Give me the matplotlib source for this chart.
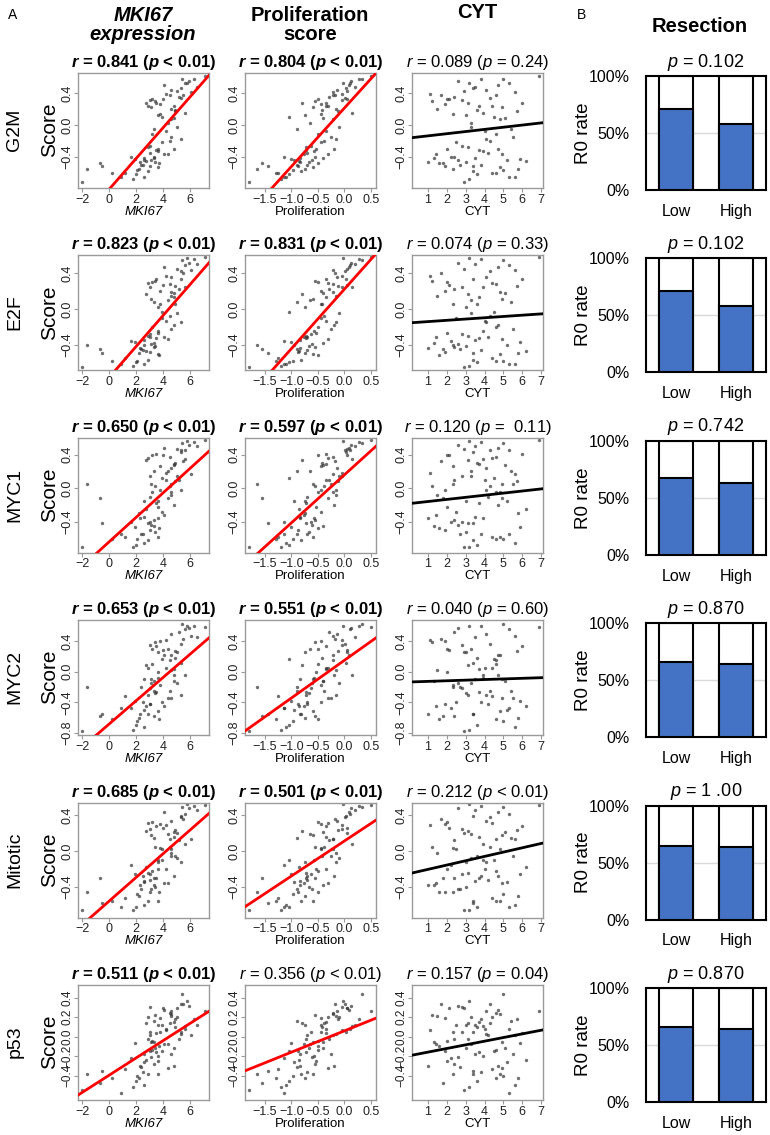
import numpy as np
import matplotlib
matplotlib.use('Agg')
import matplotlib.pyplot as plt

plt.rcParams['font.family'] = 'Liberation Sans'
plt.rcParams['mathtext.fontset'] = 'custom'
plt.rcParams['mathtext.rm'] = 'Liberation Sans'
plt.rcParams['mathtext.it'] = 'Liberation Sans:italic'
plt.rcParams['mathtext.bf'] = 'Liberation Sans:bold'
BFIT = r'\mathbf'
if 'mathtext.bfit' in plt.rcParams:
    plt.rcParams['mathtext.bfit'] = 'Liberation Sans:bold:italic'
    BFIT = r'\mathbfit'

# per-patient values (same patients in every panel)
mki67 = [5.3, 3.4, 4.8, 5.9, 2.9, 3.6, 6.1, 4.0, 6.3, 3.1,
         5.5, 4.9, 4.1, 5.2, 3.3, 5.8, 3.5, 4.6, 4.6, 5.6,
         3.0, 5.6, 4.4, 4.5, 3.8, 7.1, 2.7, 5.3, 3.8, 4.9,
         6.5, 4.6, 3.2, 5.4, 4.8, 4.2, 3.9, 5.0,
         3.0, 2.4, 4.6, 2.9, 3.3, 4.2, 2.2, 1.6, 3.4, 4.8,
         2.0, 3.9, 2.6, 3.7, 3.6, 1.2, 3.0, 2.7, 5.0, 3.0,
         4.4, 2.9, 2.6, 3.3, 3.2, 2.5, 4.1, 2.1, 3.1, 5.3,
         2.6, 3.6, 3.6, 1.9, 1.8, 4.5, 2.3, 3.5,
         -0.5, -2.0, 0.2, -0.7, 0.9, -1.6]
prolif = [0.03, -0.55, -0.41, 0.12, -0.30, -0.75, -0.22, 0.05, 0.28, -0.60,
          -0.18, -0.42, 0.08, -0.29, -0.90, -0.03, -0.35, -0.15, -0.14, 0.15,
          -0.05, 0.10, -0.65, -0.21, -0.45, 0.50, -0.80, 0.02, -0.44, -0.12,
          0.20, -0.22, -0.50, 0.33, -0.35, -0.04, -1.05, 0.05,
          -0.70, -0.90, -0.25, -0.82, -0.40, -0.35, -0.74, -1.15, -0.66, -0.20,
          -1.05, -0.45, -0.95, -0.50, -0.58, -1.25, -0.64, -0.86, -0.10, -0.88,
          -0.30, -0.72, -1.10, -0.55, -0.50, -0.70, -0.76, -0.98, -0.62, -0.15,
          -0.84, -0.60, -0.54, -1.00, -1.20, -0.38, -0.83, -0.72,
          -1.45, -1.80, -1.30, -1.55, -1.15, -1.65]
cyt = [3.4, 1.2, 5.1, 2.6, 4.4, 3.0, 5.6, 2.1, 3.8, 4.9,
       1.7, 3.6, 4.7, 2.4, 5.4, 3.2, 6.0, 1.5, 4.1, 3.9,
       2.8, 5.3, 3.3, 4.6, 1.9, 6.9, 3.1, 4.3, 2.3, 5.7,
       3.5, 4.8, 2.0, 5.0, 3.7, 1.1, 4.5, 2.9,
       4.2, 2.7, 5.5, 3.4, 1.3, 4.0, 5.8, 2.2, 3.0, 4.7,
       3.6, 2.5, 5.2, 1.6, 3.9, 4.4, 2.8, 6.2, 3.3, 1.9,
       4.9, 3.1, 5.6, 2.4, 4.6, 3.8, 1.4, 5.0, 2.6, 4.1,
       3.5, 4.8, 2.0, 5.9, 3.2, 4.3, 1.0, 3.7,
       3.4, 2.9, 4.6, 1.8, 5.3, 2.3]
g2m = [0.46, 0.30, 0.09, 0.55, 0.24, 0.12, 0.41, 0.33, 0.58, 0.22,
       0.37, 0.19, 0.50, 0.35, -0.05, 0.53, 0.27, 0.20, 0.44, 0.15,
       0.31, 0.52, 0.02, 0.38, 0.26, 0.61, 0.28, 0.34, 0.14, 0.18,
       0.47, 0.07, 0.33, 0.57, 0.24, 0.39, 0.10, 0.43,
       -0.35, -0.50, -0.15, -0.58, -0.42, -0.08, -0.55, -0.40, -0.46, -0.30,
       -0.62, -0.22, -0.44, -0.48, -0.33, -0.60, -0.26, -0.45, -0.02, -0.52,
       -0.37, -0.28, -0.65, -0.40, -0.12, -0.50, -0.36, -0.57, -0.44, -0.18,
       -0.41, -0.53, -0.30, -0.43, -0.68, -0.20, -0.47, -0.31,
       -0.52, -0.72, -0.60, -0.48, -0.65, -0.55]
e2f = [0.34, 0.31, 0.18, 0.52, 0.29, 0.02, 0.44, 0.27, 0.56, 0.11,
       0.40, 0.06, 0.47, 0.22, 0.08, 0.57, 0.33, 0.15, 0.36, 0.25,
       0.24, 0.49, 0.10, 0.28, 0.20, 0.58, 0.17, 0.42, 0.05, 0.26,
       0.50, 0.19, 0.30, 0.55, 0.13, 0.37, -0.03, 0.45,
       -0.31, -0.45, -0.22, -0.57, -0.38, -0.14, -0.50, -0.36, -0.42, -0.18,
       -0.60, -0.10, -0.40, -0.52, -0.25, -0.55, -0.28, -0.47, -0.05, -0.48,
       -0.34, -0.30, -0.62, -0.43, -0.20, -0.46, -0.32, -0.58, -0.39, -0.15,
       -0.35, -0.51, -0.27, -0.37, -0.64, -0.08, -0.44, -0.33,
       -0.50, -0.65, -0.58, -0.45, -0.62, -0.40]
myc1 = [0.43, 0.02, 0.28, 0.52, 0.36, -0.15, 0.17, 0.39, 0.55, 0.05,
        0.32, 0.30, 0.48, 0.10, 0.21, 0.56, 0.41, -0.08, 0.24, 0.35,
        0.14, 0.45, 0.20, 0.37, -0.02, 0.57, 0.33, 0.46, 0.26, 0.08,
        0.50, -0.05, 0.40, 0.54, 0.29, 0.18, 0.12, 0.47,
        -0.10, -0.55, 0.05, -0.62, -0.45, 0.10, -0.30, -0.40, -0.52, -0.20,
        -0.68, -0.28, -0.15, -0.48, -0.35, -0.58, -0.40, -0.25, 0.15, -0.50,
        -0.12, -0.42, -0.65, -0.38, -0.05, -0.55, -0.32, -0.60, -0.44, -0.02,
        -0.34, -0.58, -0.22, -0.46, -0.70, 0.02, -0.36, -0.18,
        -0.42, -0.70, -0.60, -0.12, -0.55, 0.05]
myc2 = [0.11, 0.38, -0.12, 0.57, 0.05, 0.25, 0.46, 0.28, 0.59, -0.10,
        0.43, 0.18, 0.22, 0.52, -0.25, 0.60, 0.33, 0.02, 0.49, -0.05,
        0.35, 0.55, 0.30, 0.15, 0.40, 0.58, 0.08, 0.36, -0.18, 0.27,
        0.45, 0.21, 0.30, 0.62, 0.03, 0.41, 0.16, 0.26,
        -0.42, -0.20, -0.35, -0.55, -0.12, 0.05, -0.60, -0.48, -0.28, -0.05,
        -0.70, -0.40, -0.50, -0.62, -0.08, -0.32, -0.22, -0.45, -0.15, -0.42,
        -0.35, -0.30, -0.72, -0.58, 0.10, -0.40, -0.45, -0.65, -0.15, -0.30,
        -0.10, -0.52, 0.00, -0.38, -0.76, -0.25, -0.55, -0.26,
        -0.55, -0.78, -0.62, -0.58, -0.48, -0.20]
mitotic = [0.39, 0.05, 0.21, 0.48, 0.31, -0.12, 0.14, 0.26, 0.50, 0.18,
           0.36, -0.05, 0.44, 0.12, 0.15, 0.52, 0.28, -0.02, 0.33, 0.08,
           0.25, 0.41, 0.19, 0.13, 0.30, 0.51, 0.22, 0.38, 0.03, 0.24,
           0.46, 0.02, 0.32, 0.49, 0.16, 0.29, -0.10, 0.20,
           -0.32, -0.42, -0.05, -0.56, -0.38, -0.20, -0.50, -0.15, -0.40, -0.28,
           -0.62, 0.02, -0.34, -0.45, -0.10, -0.52, -0.25, -0.18, -0.08, -0.46,
           -0.36, -0.24, -0.60, -0.30, -0.22, -0.28, -0.35, -0.48, -0.42, -0.12,
           -0.33, -0.55, -0.20, -0.25, -0.66, 0.05, -0.38, -0.30,
           -0.58, -0.65, -0.55, -0.30, -0.62, -0.45]
p53 = [0.05, 0.22, -0.12, 0.31, 0.20, 0.12, 0.02, 0.29, 0.18, -0.05,
       0.33, 0.10, 0.27, -0.02, 0.16, 0.37, 0.04, 0.21, 0.26, 0.11,
       0.30, 0.08, -0.08, 0.24, 0.19, 0.26, 0.14, 0.33, 0.05, 0.18,
       0.12, 0.23, -0.04, 0.44, 0.15, 0.07, -0.15, 0.29,
       0.02, -0.31, -0.18, -0.38, -0.05, 0.08, -0.42, -0.22, -0.12, -0.30,
       -0.45, 0.12, -0.26, -0.10, -0.20, -0.33, 0.05, -0.24, 0.20, -0.15,
       -0.32, -0.02, -0.50, -0.28, -0.14, -0.36, -0.08, -0.40, -0.21, 0.03,
       -0.18, -0.38, -0.25, -0.06, -0.52, 0.14, -0.30, -0.16,
       -0.35, -0.55, -0.42, -0.48, -0.58, -0.38]

signatures = ['G2M', 'E2F', 'MYC1', 'MYC2', 'Mitotic', 'p53']
scores = [g2m, e2f, myc1, myc2, mitotic, p53]

# correlation labels: columns MKI67, Proliferation, CYT
r_vals = [['0.841', '0.804', '0.089'],
          ['0.823', '0.831', '0.074'],
          ['0.650', '0.597', '0.120'],
          ['0.653', '0.551', '0.040'],
          ['0.685', '0.501', '0.212'],
          ['0.511', '0.356', '0.157']]
p_vals = [['< 0.01', '< 0.01', '= 0.24'],
          ['< 0.01', '< 0.01', '= 0.33'],
          ['< 0.01', '< 0.01', '=  0.11'],
          ['< 0.01', '< 0.01', '= 0.60'],
          ['< 0.01', '< 0.01', '< 0.01'],
          ['< 0.01', '< 0.01', '= 0.04']]
bold = [[1, 1, 0], [1, 1, 0], [1, 1, 0], [1, 1, 0], [1, 1, 0], [1, 0, 0]]

# regression lines
fit_intercept = [[-0.807, 0.21, -0.164],
                 [-0.77, 0.22, -0.157],
                 [-0.64, 0.158, -0.184],
                 [-0.685, 0.146, -0.136],
                 [-0.557, 0.112, -0.251],
                 [-0.396, 0.059, -0.196]]
fit_slope = [[0.193, 0.73, 0.027],
             [0.174, 0.665, 0.0144],
             [0.146, 0.57, 0.025],
             [0.152, 0.49, 0.008],
             [0.132, 0.389, 0.048],
             [0.0887, 0.218, 0.0374]]

# resection R0 rate (%)
groups = ['Low', 'High']
r0_low = [71, 71, 67, 66, 65, 66]
r0_high = [58, 58, 63, 64, 64, 64]
bar_p = ['0.102', '0.102', '0.742', '0.870', '1 .00', '0.870']

xlims = [(-2.3, 7.4), (-1.88, 0.6), (0.15, 7.1)]
xticks = [[-2, 0, 2, 4, 6], [-1.5, -1.0, -0.5, 0.0, 0.5], [1, 2, 3, 4, 5, 6, 7]]
xlabels = ['MKI67', 'Proliferation', 'CYT']
ylims = [(-0.79, 0.65), (-0.69, 0.6), (-0.77, 0.6), (-0.83, 0.67), (-0.74, 0.54), (-0.65, 0.53)]
yticks = [[-0.4, 0.0, 0.4]] * 3 + [[-0.8, -0.4, 0.0, 0.4], [-0.4, 0.0, 0.4],
                                    [-0.4, -0.2, 0.0, 0.2, 0.4]]

W, H = 770, 1135
fig = plt.figure(figsize=(W / 100, H / 100), dpi=100)


def px_axes(l, t, w, h):
    return fig.add_axes([l / W, 1 - (t + h) / H, w / W, h / H])


def px_text(x, y, s, **kw):
    fig.text(x / W, 1 - y / H, s, **kw)


xs = [mki67, prolif, cyt]
col_left = [78, 245, 412]
frame = '#9a9a9a'
for i, sig in enumerate(signatures):
    top = 73 + 182.4 * i
    px_text(15, top + 57, sig, fontsize=14, rotation=90, ha='center', va='center')
    px_text(50, top + 57, 'Score', fontsize=15, rotation=90, ha='center', va='center')
    for j in range(3):
        ax = px_axes(col_left[j], top, 131, 115)
        ax.scatter(xs[j], scores[i], s=6, color='#333333', alpha=0.7, linewidths=0, zorder=2)
        xx = np.array(xlims[j])
        ax.plot(xx, fit_intercept[i][j] + fit_slope[i][j] * xx,
                color='#ff0000' if j < 2 else 'black', lw=2, zorder=3)
        ax.set_xlim(xlims[j])
        ax.set_ylim(ylims[i])
        ax.set_xticks(xticks[j])
        ax.set_yticks(yticks[i])
        for s in ax.spines.values():
            s.set_color(frame)
            s.set_linewidth(1)
        ax.tick_params(length=3, width=0.8, color=frame, labelsize=9, pad=1,
                       labelcolor='#222222')
        ax.tick_params(axis='y', labelrotation=90, pad=0.5,
                       labelsize=8.5 if i == 5 else 9)
        for lbl in ax.get_yticklabels():
            lbl.set_va('center')
        ax.set_xlabel(xlabels[j], fontsize=9.5, labelpad=0,
                      fontstyle='italic' if j == 0 else 'normal')
        if bold[i][j]:
            title = r'$%s{r}$ = %s ($%s{p}$ %s)' % (BFIT, r_vals[i][j], BFIT, p_vals[i][j])
            weight = 'bold'
        else:
            title = r'$\mathit{r}$ = %s ($\mathit{p}$ %s)' % (r_vals[i][j], p_vals[i][j])
            weight = 'normal'
        ax.annotate(title, xy=(0.5, 1), xycoords='axes fraction', xytext=(0, 7.5),
                    textcoords='offset points', ha='center', va='center',
                    fontsize=12, fontweight=weight)

    # resection bar panel
    bx = px_axes(646, 76 + 182.4 * i, 120, 114)
    pos = np.arange(len(groups))
    vals = [r0_low[i], r0_high[i]]
    bx.axhline(50, color='#d9d9d9', lw=1, zorder=1)
    bx.bar(pos, [100, 100], 0.57, color='white', edgecolor='black', lw=1.5, zorder=2)
    bx.bar(pos, vals, 0.57, color='#4472c4', edgecolor='black', lw=1.5, zorder=3)
    bx.set_xlim(-0.5, 1.5)
    bx.set_ylim(0, 100)
    bx.set_xticks(pos)
    bx.set_xticklabels(groups)
    bx.set_yticks([0, 50, 100])
    bx.set_yticklabels(['0%', '50%', '100%'])
    bx.tick_params(length=0, labelsize=11.5, pad=12)
    bx.tick_params(axis='x', pad=10)
    for s in bx.spines.values():
        s.set_color('black')
        s.set_linewidth(1.5)
    bx.set_ylabel('R0 rate', fontsize=13.5, labelpad=-3)
    bx.annotate(r'$\mathit{p}$ = ' + bar_p[i], xy=(0.5, 1), xycoords='axes fraction',
                xytext=(0, 10), textcoords='offset points', ha='center', va='center',
                fontsize=13)

px_text(8, 15, 'A', fontsize=10, ha='left', va='center')
px_text(577, 15, 'B', fontsize=10, ha='left', va='center')
px_text(143, 25, 'MKI67\nexpression', fontsize=14.5, fontweight='bold',
        fontstyle='italic', ha='center', va='center', linespacing=1.05)
px_text(310, 25, 'Proliferation\nscore', fontsize=14.5, fontweight='bold',
        ha='center', va='center', linespacing=1.05)
px_text(477, 12, 'CYT', fontsize=14.5, fontweight='bold', ha='center', va='center')
px_text(700, 27, 'Resection', fontsize=14.5, fontweight='bold', ha='center', va='center')

fig.savefig('out.png', dpi=100)
